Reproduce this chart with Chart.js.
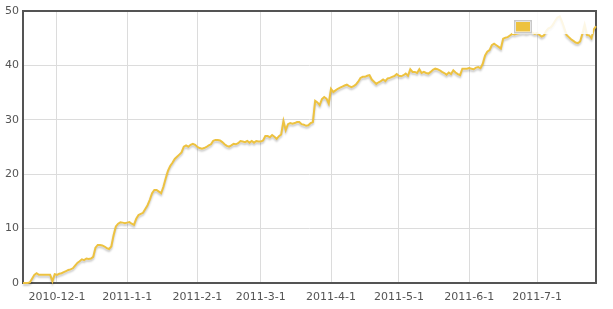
<!DOCTYPE html>
<html>
<head>
<meta charset="utf-8">
<script src="https://cdn.jsdelivr.net/npm/chart.js@4/dist/chart.umd.min.js"></script>
<style>
html,body{margin:0;padding:0;background:#fff;}
#wrap{width:613px;height:309px;}
</style>
</head>
<body>
<div id="wrap"><canvas id="c" width="613" height="309"></canvas></div>
<script>
// ---- data ----
const startDate = "2010-11-16";           // first daily sample
const seriesLabel = "Series";
const values = [
 0,0,0,0.1,0.8,1.5,1.8,1.5,1.5,1.5,1.5,1.5,1.5,0.3,1.6,
 1.5,1.7,1.8,2.0,2.2,2.4,2.5,2.7,3.2,3.7,4.0,4.35,4.2,4.5,4.4,4.5,4.8,6.5,7.0,7.0,6.9,6.7,6.4,6.25,6.7,8.8,10.4,10.9,11.15,11.1,11.0,
 11.1,11.2,10.9,10.7,11.8,12.5,12.7,12.9,13.6,14.3,15.3,16.5,17.1,17.1,16.8,16.5,17.7,19.2,20.6,21.5,22.1,22.8,23.2,23.6,24.0,25.05,25.3,25.05,25.4,25.6,25.4,
 25.0,24.8,24.7,24.8,25.0,25.3,25.5,26.15,26.3,26.3,26.2,25.9,25.5,25.2,25.05,25.3,25.6,25.5,25.7,26.1,26.0,25.9,26.1,25.8,26.1,25.8,26.1,26.0,
 26.0,26.2,27.0,27.0,26.8,27.2,26.9,26.5,27.0,27.3,29.8,28.1,29.2,29.4,29.3,29.4,29.6,29.6,29.2,29.1,28.9,29.0,29.4,29.6,33.5,33.2,32.7,33.8,34.2,33.9,33.0,
 35.7,35.1,35.4,35.7,35.9,36.1,36.3,36.45,36.2,36.0,36.2,36.5,37.0,37.7,37.9,37.9,38.1,38.2,37.4,37.0,36.6,36.9,37.1,37.4,37.1,37.6,37.7,37.9,38.05,
 38.4,38.1,38.0,38.2,38.5,38.1,39.3,38.8,38.8,38.6,39.3,38.6,38.8,38.6,38.5,38.8,39.2,39.4,39.3,39.1,38.8,38.6,38.3,38.7,38.4,39.1,38.7,38.4,38.2,39.4,39.4,
 39.4,39.5,39.4,39.3,39.6,39.7,39.5,40.3,41.8,42.5,42.8,43.7,44.0,43.7,43.4,43.1,44.9,45.1,45.2,45.5,45.8,45.7,45.8,45.9,46.0,46.1,45.9,46.0,46.2,46.0,45.8,
 46.0,45.6,45.3,45.5,46.3,46.8,47.0,47.5,48.2,48.8,49.0,48.0,46.8,45.6,45.2,44.8,44.5,44.2,44.1,44.4,45.8,47.5,45.6,45.5,45.0,46.6,47.2
];
const xTickLabels = ["2010-12-1","2011-1-1","2011-2-1","2011-3-1","2011-4-1","2011-5-1","2011-6-1","2011-7-1"];
const yTicks = [0,10,20,30,40,50];

// ---- helpers ----
const DAY = 86400000;
function dayNum(s){const p=s.split("-").map(Number);return Date.UTC(p[0],p[1]-1,p[2])/DAY;}
const base = dayNum(startDate);
const points = values.map((v,i)=>({x: base+i, y: v}));
const xTickVals = xTickLabels.map(dayNum);
const labelByDay = {}; xTickLabels.forEach((l,i)=>labelByDay[xTickVals[i]]=l);

const LINE = "#edc240";
const AXIS = "#545454";
const GRID = "#dcdcdc";

const framePlugin = {
  id:"frame",
  beforeDatasetsDraw(chart){
    const {ctx, chartArea:a} = chart;
    ctx.save();
    ctx.strokeStyle = AXIS; ctx.lineWidth = 2;
    ctx.strokeRect(a.left, a.top, a.right-a.left, a.bottom-a.top);
    ctx.restore();
  },
  beforeDatasetDraw(chart){
    const ctx = chart.ctx;
    ctx.save();
    ctx.shadowColor = "rgba(0,0,0,0.22)";
    ctx.shadowBlur = 2;
    ctx.shadowOffsetX = 0;
    ctx.shadowOffsetY = 2;
  },
  afterDatasetDraw(chart){ chart.ctx.restore(); },
  afterDraw(chart){
    const {ctx, chartArea:a} = chart;
    // flot-style legend box in the top-right corner
    const bx = a.right-84, by = a.top+1, bw = 81, bh = 22;
    ctx.save();
    ctx.fillStyle = "rgba(255,255,255,0.86)";
    ctx.fillRect(bx, by, bw, bh);
    ctx.fillStyle = "#fff";
    ctx.fillRect(bx+1, by+7, 19, 15);
    ctx.strokeStyle = "#c8c8c8"; ctx.lineWidth = 1.5;
    ctx.strokeRect(bx+2.75, by+8.75, 16.5, 12);
    ctx.fillStyle = LINE;
    ctx.fillRect(bx+4, by+10, 14, 9.5);
    ctx.restore();
  }
};

new Chart(document.getElementById("c"), {
  type:"line",
  data:{datasets:[{label:seriesLabel, data:points, borderColor:LINE, borderWidth:2,
    pointRadius:0, tension:0, fill:false, clip:false}]},
  options:{
    responsive:false, animation:false, devicePixelRatio:1,
    layout:{padding:{top:11,right:17,left:0,bottom:0}},
    plugins:{legend:{display:false}, tooltip:{enabled:false}},
    scales:{
      x:{type:"linear", min:base, max:base+values.length-1,
        border:{display:false},
        grid:{color:GRID, lineWidth:1, drawTicks:false},
        afterBuildTicks(s){ s.ticks = xTickVals.map(v=>({value:v})); },
        afterFit(s){ s.height = 26; },
        ticks:{autoSkip:false, maxRotation:0, padding:8, color:AXIS,
          font:{family:"DejaVu Sans", size:11},
          callback:(v)=>labelByDay[v]||""}
      },
      y:{min:0, max:50,
        border:{display:false},
        grid:{color:GRID, lineWidth:1, drawTicks:false},
        afterBuildTicks(s){ s.ticks = yTicks.map(v=>({value:v})); },
        afterFit(s){ s.width = 23; },
        ticks:{padding:4, color:AXIS, font:{family:"DejaVu Sans", size:11}}
      }
    }
  },
  plugins:[framePlugin]
});
</script>
</body>
</html>
